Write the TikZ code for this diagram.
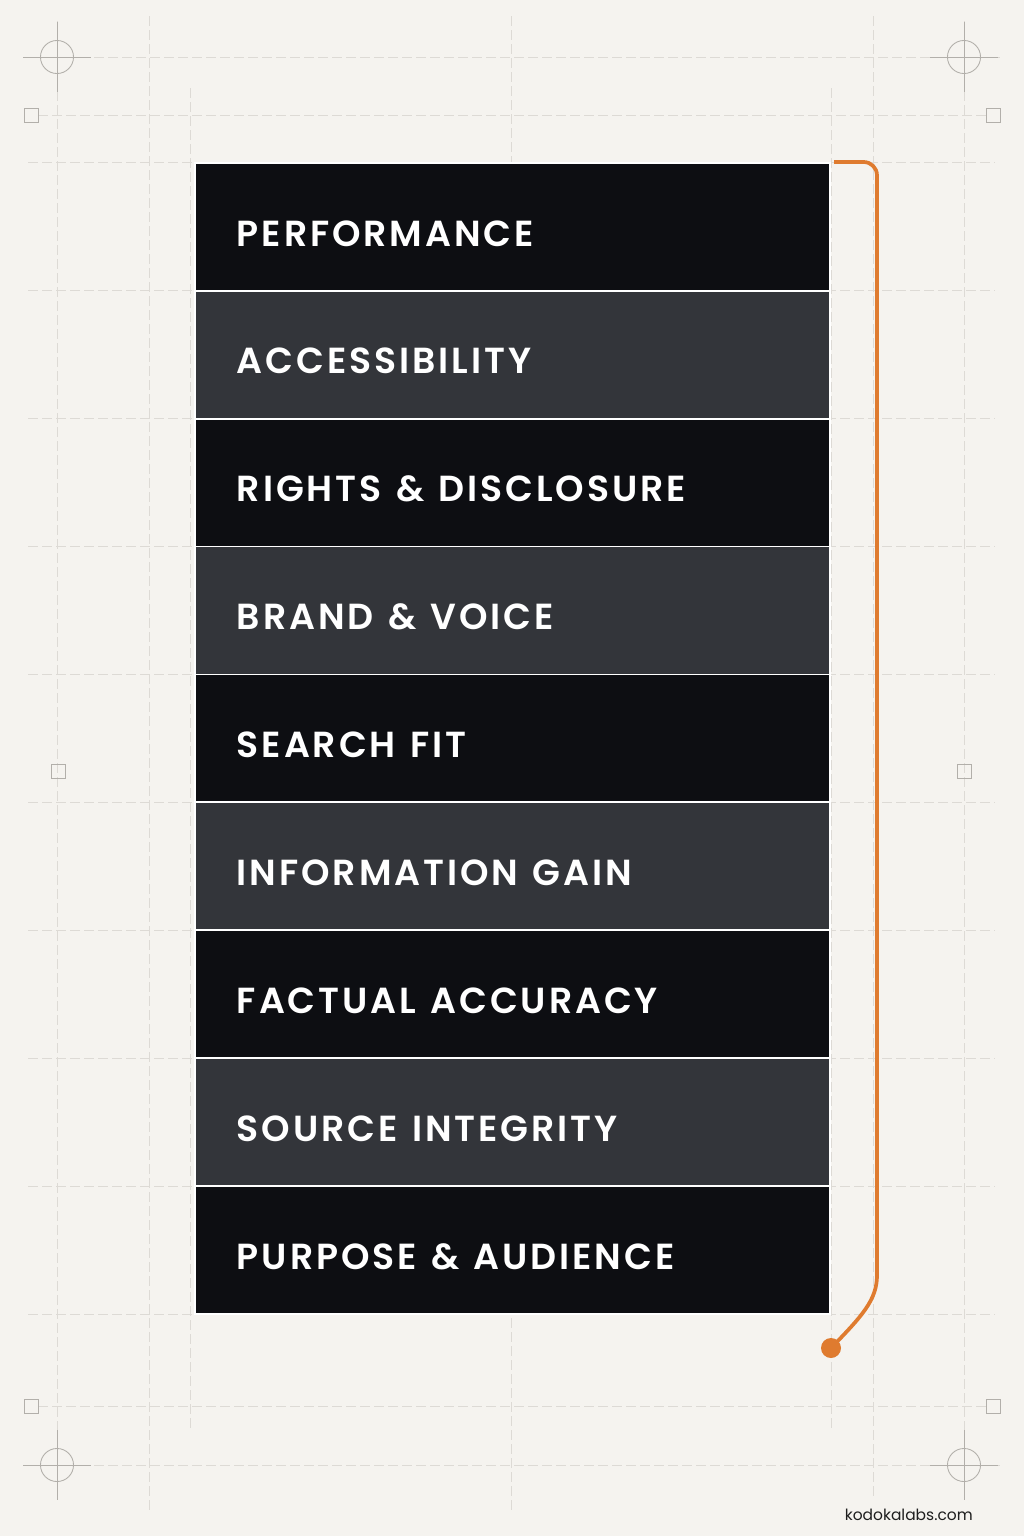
\documentclass[tikz,border=0pt]{standalone}
\usepackage{fontspec}
\newfontfamily\labelfont{Poppins}[UprightFont=* SemiBold, LetterSpace=8, WordSpace=1.25]
\newfontfamily\webfont{Poppins}
\definecolor{bg}{HTML}{F5F3EF}
\definecolor{darkrow}{HTML}{0D0E12}
\definecolor{grayrow}{HTML}{33353A}
\definecolor{gridc}{HTML}{DDDAD5}
\definecolor{markc}{HTML}{B2AFAA}
\definecolor{orng}{HTML}{DF7B2F}
\definecolor{inkc}{HTML}{1E1E1E}
\tikzset{
  gridline/.style={draw=gridc, line width=0.65pt, dash pattern=on 7.5pt off 3pt},
  markline/.style={draw=markc, line width=0.65pt},
  sqmark/.style={rectangle, draw=markc, line width=0.65pt, minimum size=10.5pt, inner sep=0pt},
  rowbox/.style={rectangle, anchor=north west, minimum width=476.25pt, minimum height=95.9pt, inner sep=0pt, draw=white, line width=1.3pt},
  rowlabel/.style={anchor=base west, inner sep=0pt, text=white, font=\labelfont\fontsize{27.2}{30}\selectfont},
  bracket/.style={draw=orng, line width=2.8pt, rounded corners=10pt},
  enddot/.style={circle, fill=orng, minimum size=15pt, inner sep=0pt}
}
\begin{document}
\begin{tikzpicture}[x=0.75pt,y=-0.75pt]
\fill[bg] (0,0) rectangle (1024,1536);
\useasboundingbox (0,0) rectangle (1024,1536);

% guide lines
\foreach \yy in {162,290,418,546,674,802,930,1058,1186,1314}
  \draw[gridline] (28,\yy) -- (995,\yy);
\draw[gridline] (24,57) -- (1000,57);
\draw[gridline] (38,115) -- (986,115);
\draw[gridline] (38,1406) -- (986,1406);
\draw[gridline] (24,1465) -- (1000,1465);
\draw[gridline] (57,21) -- (57,1500);
\draw[gridline] (149,16) -- (149,1510);
\draw[gridline] (190,88) -- (190,1432);
\draw[gridline] (511,16) -- (511,1510);
\draw[gridline] (831,88) -- (831,1432);
\draw[gridline] (873,16) -- (873,1500);
\draw[gridline] (964,21) -- (964,1500);

% corner marks
\foreach \cx/\cy in {57/57, 964/57, 57/1465, 964/1465}{
  \draw[markline] (\cx,\cy) circle[radius=12.4pt];
  \draw[markline] (\cx-34,\cy) -- (\cx+34,\cy);
  \draw[markline] (\cx,\cy-35) -- (\cx,\cy+35);
}
\node[sqmark] (sqa) at (31,115) {};
\node[sqmark] (sqb) at (993,115) {};
\node[sqmark] (sqc) at (58,771) {};
\node[sqmark] (sqd) at (964,771) {};
\node[sqmark] (sqe) at (31,1406) {};
\node[sqmark] (sqf) at (993,1406) {};

% stack of rows
\foreach \lab/\col [count=\i] in {PERFORMANCE/darkrow, ACCESSIBILITY/grayrow, RIGHTS \& DISCLOSURE/darkrow, BRAND \& VOICE/grayrow, SEARCH FIT/darkrow, INFORMATION GAIN/grayrow, FACTUAL ACCURACY/darkrow, SOURCE INTEGRITY/grayrow, PURPOSE \& AUDIENCE/darkrow}{
  \node[rowbox, fill=\col] (row\i) at (194,{162+(\i-1)*127.9}) {};
  \node[rowlabel] (lab\i) at ([xshift=32pt, yshift=-63pt]row\i.north west) {\lab};
}

% orange bracket
\coordinate (bstart) at (834,162);
\node[enddot] (dot) at (831,1348) {};
\draw[bracket] (bstart) -- (877,162) -- (877,1262) .. controls (877,1300) and (862,1316) .. (dot.center);

% footer
\node[anchor=base east, inner sep=0pt, text=inkc, font=\webfont\fontsize{11.6}{13}\selectfont] (web) at (973,1520) {kodokalabs.com};
\end{tikzpicture}
\end{document}
